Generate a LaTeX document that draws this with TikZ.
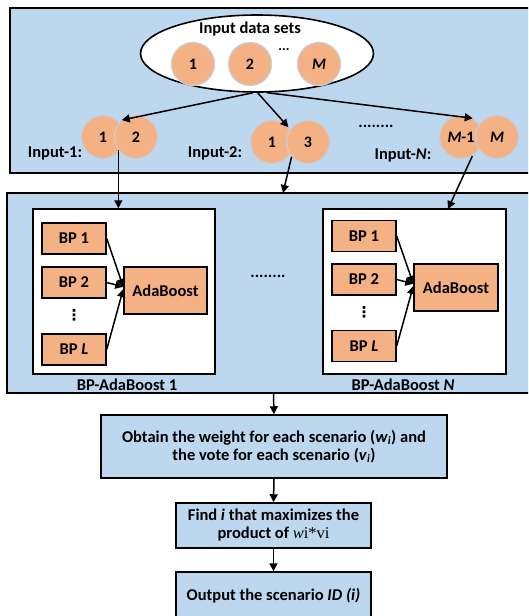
\documentclass[tikz,border=0pt]{standalone}
\usepackage{fontspec}
\setmainfont{Carlito}
\newfontfamily\serifmath{Liberation Serif}
\newfontfamily\dotsfont{DejaVu Sans}
\definecolor{panelblue}{RGB}{189,215,238}
\definecolor{setorange}{RGB}{244,177,131}
\definecolor{rimgray}{RGB}{200,206,216}
\usetikzlibrary{shapes.geometric, arrows.meta, calc}

\begin{document}
\begin{tikzpicture}[x=1pt, y=-1pt,
  every node/.style={font=\fontsize{16.5}{18}\selectfont\bfseries},
  panel/.style={draw, line width=1.5pt, fill=panelblue, inner sep=0pt},
  setcirc/.style={circle, fill=setorange, draw=rimgray, line width=1.2pt, minimum size=43pt, inner sep=0pt, font=\fontsize{16}{18}\selectfont\bfseries},
  bpbox/.style={draw, line width=1.4pt, fill=setorange, minimum width=64pt, minimum height=31pt, inner sep=0pt},
  adabox/.style={draw, line width=1.4pt, fill=setorange, minimum width=83pt, minimum height=47pt, inner sep=0pt},
  learner/.style={draw, line width=1.5pt, fill=white, minimum width=182pt, minimum height=165pt, inner sep=0pt},
  stepbox/.style={draw, line width=1.5pt, fill=panelblue, align=center, inner sep=0pt},
  vdotsmark/.style={inner sep=0pt, font=\dotsfont\fontsize{15}{15}\selectfont\bfseries},
  link/.style={-{Triangle[length=8pt, width=8pt]}, line width=1.5pt}]
  \clip (0,0) rectangle (528,616);

  % Panels
  \node[panel, minimum width=530pt, minimum height=165pt] (inputs) at (275,90.5) {};
  \node[panel, minimum width=533pt, minimum height=200pt] (ensemble) at (273.5,293) {};

  % Input data sets
  \node[ellipse, draw, line width=1.6pt, fill=white, minimum width=233pt, minimum height=77pt] (pool) at (257,53.5) {};
  \node[inner sep=0pt] (pooltitle) at (250,29.5) {Input data sets};
  \node[setcirc] (d1) at (193,64) {1};
  \node[setcirc] (d2) at (250,64) {2};
  \node[inner sep=0pt, font=\fontsize{14}{14}\selectfont\bfseries] (ddots) at (284,50) {...};
  \node[setcirc] (dM) at (319,64) {\textit{M}};

  % Sampled inputs
  \node[setcirc] (a1) at (103,137) {1};
  \node[setcirc] (a2) at (136,137) {2};
  \node (alabel) at (55,153) {Input-1:};
  \node[setcirc] (b1) at (272,142) {1};
  \node[setcirc] (b3) at (308,142) {3};
  \node (blabel) at (215,153) {Input-2:};
  \node (idots) at (376,126) {........};
  \node[setcirc] (c1) at (461,137) {\textit{M}-1};
  \node[setcirc] (c2) at (497,137) {\textit{M}};
  \node (clabel) at (403,155) {Input-\textit{N}:};

  \draw[link] (pool.-96) -- (a2.130);
  \draw[link] (pool.-89) -- (b1.42);
  \draw[link] (pool.-76) -- (c1.58);

  % BP-AdaBoost 1
  \node[learner] (learn1) at (124,291.5) {};
  \node[bpbox] (bp11) at (74,238.5) {BP 1};
  \node[bpbox] (bp12) at (74,282.5) {BP 2};
  \node[vdotsmark] (bp1dots) at (74,315) {⋮};
  \node[bpbox] (bp1L) at (74,349.5) {BP \textit{L}};
  \node[adabox] (ada1) at (165.5,290.5) {AdaBoost};
  \node (learn1name) at (127,385) {BP-AdaBoost 1};
  \draw[link] (bp11.east) -- (ada1.175);
  \draw[link] (bp12.east) -- (ada1.175);
  \draw[link] (bp1L.east) -- (ada1.178);

  \node (ldots) at (268,276) {........};

  % BP-AdaBoost N
  \node[learner, minimum width=183pt] (learnN) at (414.5,291.5) {};
  \node[bpbox] (bpN1) at (364,236) {BP 1};
  \node[bpbox] (bpN2) at (364,279.5) {BP 2};
  \node[vdotsmark] (bpNdots) at (364,312) {⋮};
  \node[bpbox] (bpNL) at (364,346) {BP \textit{L}};
  \node[adabox, minimum width=84pt] (adaN) at (456,287.5) {AdaBoost};
  \node (learnNname) at (403,385) {BP-AdaBoost \textit{N}};
  \draw[link] (bpN1.east) -- (adaN.175);
  \draw[link] (bpN2.east) -- (adaN.175);
  \draw[link] (bpNL.east) -- (adaN.178);

  % Inputs into the learners
  \coordinate (hit2) at (283,193);
  \coordinate (hit3) at (448,209);
  \draw[link] (a2.217) -- (a2.217 |- learn1.north);
  \draw[link] (b3.222) -- (hit2);
  \draw[link] (c1.-59) -- (hit3);

  % Decision steps
  \node[stepbox, minimum width=346pt, minimum height=63pt] (obtain) at (274,446.5)
    {Obtain the weight for each scenario (\textit{w}\textsubscript{\textit{i}}) and\\the vote for each scenario (\textit{v}\textsubscript{\textit{i}})};
  \node[stepbox, minimum width=195pt, minimum height=45pt] (find) at (273.5,525.5)
    {Find \textit{i} that maximizes the\\product of {\serifmath\mdseries\textit{w}i*vi}};
  \node[stepbox, minimum width=195pt, minimum height=48pt] (output) at (273.5,596)
    {Output the scenario \textit{ID (i)}};

  \draw[link] (ensemble.south) -- (obtain.north);
  \draw[link] (obtain.south) -- (find.north);
  \draw[link] (find.south) -- (output.north);
\end{tikzpicture}
\end{document}
